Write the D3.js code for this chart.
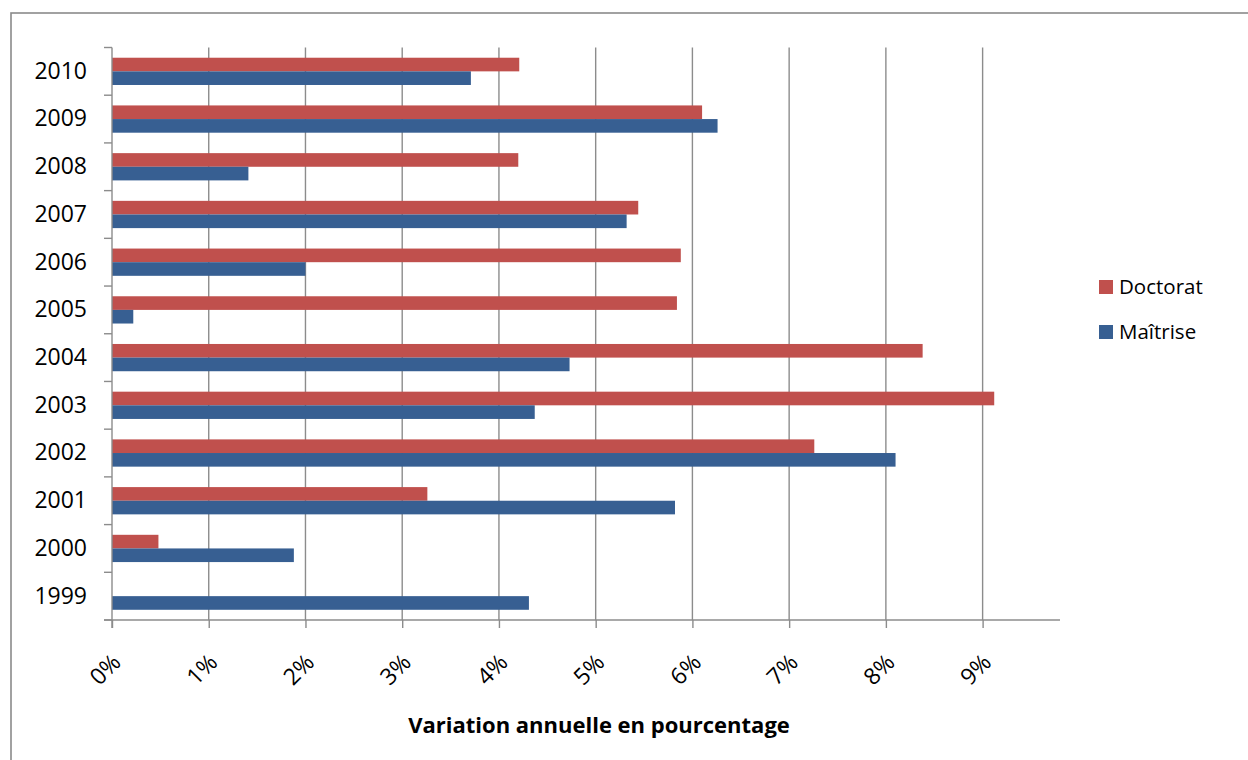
<!DOCTYPE html>
<html><head><meta charset="utf-8">
<script src="https://cdn.jsdelivr.net/npm/d3@7"></script>
<style>body{margin:0;background:#fff}svg{display:block}text{font-family:"Open Sans",sans-serif}</style>
</head><body>
<svg id="c" width="1248" height="760"></svg>
<script>
const years = ["1999","2000","2001","2002","2003","2004","2005","2006","2007","2008","2009","2010"];
const doctorat = [0, 0.0048, 0.0326, 0.0726, 0.0912, 0.0838, 0.0584, 0.0588, 0.0544, 0.0420, 0.0610, 0.0421];
const maitrise = [0.0431, 0.0188, 0.0582, 0.0810, 0.0437, 0.0473, 0.0022, 0.0200, 0.0532, 0.0141, 0.0626, 0.0371];
const seriesNames = ["Doctorat","Maîtrise"];
const seriesColors = ["#C0504D","#375F92"];
const xTicks = [0,0.01,0.02,0.03,0.04,0.05,0.06,0.07,0.08,0.09];
const xTitle = "Variation annuelle en pourcentage";

const svg = d3.select("#c");
const L = 112, R = 1060, T = 47.5, B = 620;
const x = d3.scaleLinear().domain([0, 0.098]).range([L, R]);
const y = d3.scaleBand().domain(years.slice().reverse()).range([T, B]).paddingInner(0).paddingOuter(0);
// Excel gap width 75%: group occupies band/(1+0.75)
const grp = y.bandwidth()/1.75, off = (y.bandwidth()-grp)/2, bh = grp/2;

// outer border
svg.append("rect").attr("x",11).attr("y",13).attr("width",1300).attr("height",800)
  .attr("fill","none").attr("stroke","#8a8a8a").attr("stroke-width",1.6);

// gridlines
svg.append("g").selectAll("line").data(xTicks.slice(1)).join("line")
  .attr("x1",d=>x(d)).attr("x2",d=>x(d)).attr("y1",T).attr("y2",B)
  .attr("stroke","#8c8c8c").attr("stroke-width",1.4);

// bars
const data = years.map((yr,i)=>({yr, d:doctorat[i], m:maitrise[i]}));
const g = svg.append("g");
g.selectAll("rect.d").data(data).join("rect").attr("class","d")
  .attr("x",x(0)).attr("y",d=>y(d.yr)+off).attr("height",bh)
  .attr("width",d=>x(d.d)-x(0)).attr("fill",seriesColors[0]);
g.selectAll("rect.m").data(data).join("rect").attr("class","m")
  .attr("x",x(0)).attr("y",d=>y(d.yr)+off+bh).attr("height",bh)
  .attr("width",d=>x(d.m)-x(0)).attr("fill",seriesColors[1]);

// y axis
const ya = svg.append("g").attr("transform",`translate(${L},0)`)
  .call(d3.axisLeft(y).tickSize(0).tickPadding(25));
ya.select(".domain").remove();
ya.selectAll("text").attr("font-size","23px").attr("fill","#000").style("font-family","'Open Sans',sans-serif");
svg.append("line").attr("x1",L).attr("x2",L).attr("y1",T).attr("y2",B+8).attr("stroke","#8c8c8c").attr("stroke-width",1.4);
svg.append("g").selectAll("line").data(d3.range(13)).join("line")
  .attr("x1",L-8).attr("x2",L).attr("y1",i=>T+i*y.bandwidth()).attr("y2",i=>T+i*y.bandwidth())
  .attr("stroke","#8c8c8c").attr("stroke-width",1.4);

// x axis
const xa = svg.append("g").attr("transform",`translate(0,${B})`)
  .call(d3.axisBottom(x).tickValues(xTicks).tickFormat(d3.format(".0%")).tickSize(8).tickSizeOuter(0));
xa.select(".domain").attr("d",`M${L-8},0H${R}`).attr("stroke","#8c8c8c").attr("stroke-width",1.4);
xa.selectAll(".tick line").attr("stroke","#8c8c8c").attr("stroke-width",1.4);
xa.selectAll(".tick text").attr("font-size","23px").attr("fill","#000")
  .style("font-family","'Open Sans',sans-serif")
  .attr("text-anchor","end").attr("dy","0.35em").attr("y",0)
  .attr("transform","translate(4,38) rotate(-45)");

svg.append("text").attr("x",599).attr("y",733).attr("text-anchor","middle")
  .attr("font-size","22px").attr("font-weight","bold").text(xTitle);

// legend
const lg = svg.append("g");
seriesNames.forEach((n,i)=>{
  const yy = 280 + i*45;
  lg.append("rect").attr("x",1099).attr("y",yy).attr("width",14).attr("height",14).attr("fill",seriesColors[i]);
  lg.append("text").attr("x",1119).attr("y",yy+14).attr("font-size","20.5px").text(n);
});
</script>
</body></html>
